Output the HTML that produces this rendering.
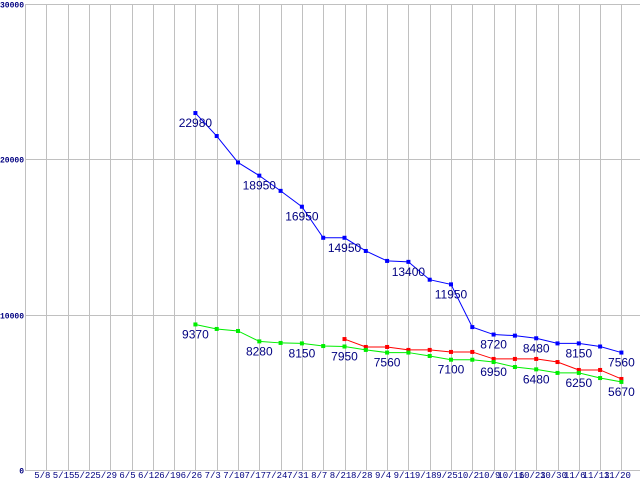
<!DOCTYPE html>
<html><head><meta charset="utf-8"><style>
body{margin:0;background:#fff;}
svg{display:block;font-family:"Liberation Mono","DejaVu Sans Mono",monospace;}
</style></head><body>
<svg id="chart" width="640" height="480" viewBox="0 0 640 480" xmlns="http://www.w3.org/2000/svg"></svg>
<script>
const categories=["5/8","5/15","5/22","5/29","6/5","6/12","6/19","6/26","7/3","7/10","7/17","7/24","7/31","8/7","8/21","8/28","9/4","9/11","9/18","9/25","10/2","10/9","10/16","10/23","10/30","11/6","11/13","11/20"];
const blueValues=[null,null,null,null,null,null,null,22980,21500,19800,18950,17970,16950,14950,14950,14100,13460,13400,12250,11950,9200,8720,8650,8480,8150,8150,7950,7560];
const redValues=[null,null,null,null,null,null,null,null,null,null,null,null,null,null,8430,7920,7920,7730,7730,7600,7600,7150,7150,7150,6950,6440,6440,5860];
const greenValues=[null,null,null,null,null,null,null,9370,9080,8950,8280,8180,8150,7980,7950,7730,7560,7560,7340,7100,7100,6950,6630,6480,6250,6250,5920,5670];
const blueLabelIdx=[7,10,12,14,17,19,21,23,25,27];
const greenLabelIdx=[7,10,12,14,16,19,21,23,25,27];
const yTicks=[0,10000,20000,30000];

const svg=document.getElementById('chart');
const NS='http://www.w3.org/2000/svg';
const plotLeft=25,plotTop=4,plotBottom=470,plotRight=640,step=21.3,yMax=30000;
function xPos(i){return plotLeft+step*(i+1);}
function yPos(v){return plotBottom-(plotBottom-plotTop)*v/yMax;}
function mk(tag,attrs,parent){const e=document.createElementNS(NS,tag);for(const k in attrs)e.setAttribute(k,attrs[k]);(parent||svg).appendChild(e);return e;}

const grid=mk('g',{});


mk('line',{x1:plotLeft+0.5,y1:plotTop,x2:plotLeft+0.5,y2:plotBottom,stroke:'#c0c0c0'},grid);
for(let i=0;i<29;i++){const x=Math.round(xPos(i))+0.5;mk('line',{x1:x,y1:plotTop,x2:x,y2:plotBottom,stroke:'#c0c0c0'},grid);}
yTicks.forEach(v=>{const y=Math.round(yPos(v))+0.5;mk('line',{x1:plotLeft,y1:y,x2:plotRight,y2:y,stroke:'#c0c0c0'},grid);
 const t=mk('text',{x:plotLeft-1,y:y+3,'text-anchor':'end','font-size':'8','fill':'#000080','font-weight':'bold'});
 
 
 t.textContent=v;});
categories.forEach((c,i)=>{const t=mk('text',{x:xPos(i)-4,y:478,'text-anchor':'middle','font-size':'9','fill':'#000080'});
 
 
 t.textContent=c;});

function series(vals,color,name,labelIdx){
 const g=mk('g',{});
 
 
 let pts=[];vals.forEach((v,i)=>{if(v!=null)pts.push(xPos(i)+','+yPos(v));});
 mk('polyline',{points:pts.join(' '),fill:'none',stroke:color,'stroke-width':1},g);
 vals.forEach((v,i)=>{if(v==null)return;const r=mk('rect',{x:xPos(i)-2,y:yPos(v)-2,width:4,height:4,fill:color},g);
  
  });
 (labelIdx||[]).forEach(i=>{const t=mk('text',{x:xPos(i),y:yPos(vals[i])+14,'text-anchor':'middle','font-size':'12','fill':'#000080','font-family':'"Liberation Sans",sans-serif'},g);
  
  
  t.textContent=vals[i];});
}
series(redValues,'#ff0000','red-series',null);
series(greenValues,'#00ee00','green-series',greenLabelIdx);
series(blueValues,'#0000ff','blue-series',blueLabelIdx);
</script>
</body></html>
